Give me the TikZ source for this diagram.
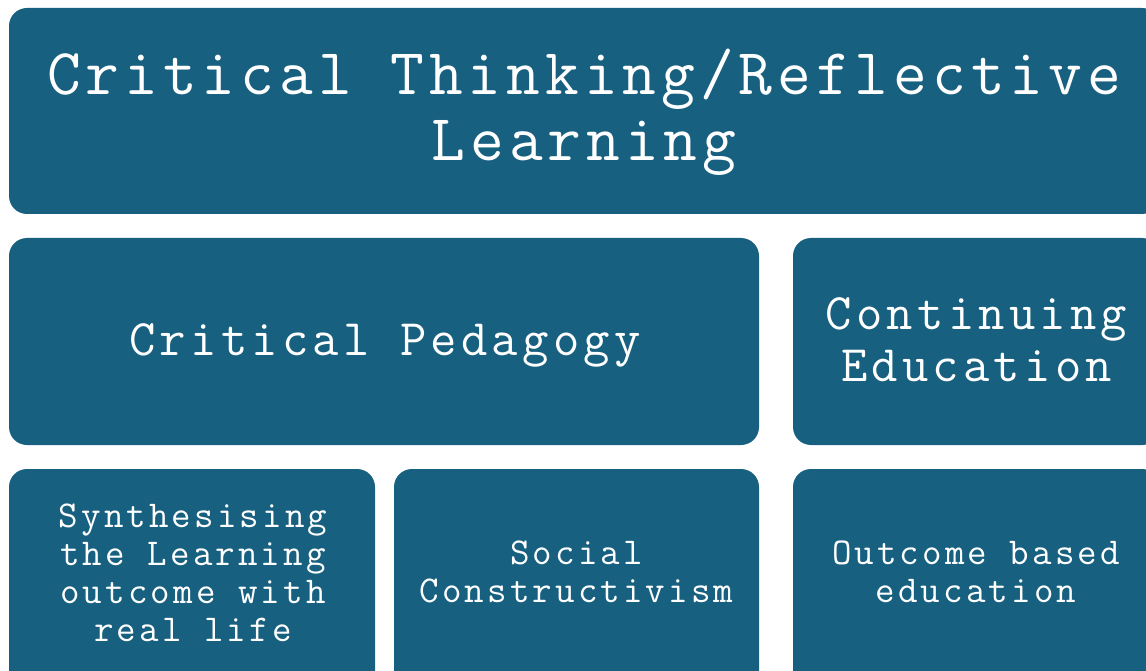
\documentclass[tikz,border=0pt]{standalone}
\usepackage{fontspec}
\newfontfamily\cour[LetterSpace=8.2]{Latin Modern Mono}
\newfontfamily\courtitle[LetterSpace=7.6]{Latin Modern Mono}
\definecolor{boxblue}{RGB}{23,96,128}
\begin{document}
\begin{tikzpicture}[x=1pt,y=-1pt,
  box/.style={fill=boxblue,draw=none,rounded corners=18pt,inner sep=0pt,outer sep=0pt,anchor=north west},
  lbl/.style={text=white,align=center,inner sep=0pt,outer sep=0pt,anchor=center},
  big/.style={lbl,font=\courtitle\fontsize{65.5}{66}\selectfont},
  mid/.style={lbl,font=\cour\fontsize{51.2}{52}\selectfont},
  small/.style={lbl,font=\cour\fontsize{37.9}{38}\selectfont}]
\useasboundingbox (0,0) rectangle (1146,671);
\clip (0,0) rectangle (1146,671);
\node[box,minimum width=1151pt,minimum height=206pt] (top) at (9,8) {};
\node[box,minimum width=750pt,minimum height=207pt] (cp) at (9,238) {};
\node[box,minimum width=367pt,minimum height=207pt] (ce) at (793,238) {};
\node[box,minimum width=366pt,minimum height=221pt] (syn) at (9,469) {};
\node[box,minimum width=365pt,minimum height=221pt] (soc) at (394,469) {};
\node[box,minimum width=367pt,minimum height=221pt] (obe) at (793,469) {};
\node[big] (ttop) at (584,112) {Critical Thinking/Reflective\\Learning};
\node[mid] (tcp) at (385,345) {Critical Pedagogy};
\node[mid] (tce) at (976.5,339.5) {Continuing\\Education};
\node[small] (tsyn) at (193,572.5) {Synthesising\\the Learning\\outcome with\\real life};
\node[small] (tsoc) at (576.5,571.5) {Social\\Constructivism};
\node[small] (tobe) at (976,571.5) {Outcome based\\education};
\end{tikzpicture}
\end{document}
